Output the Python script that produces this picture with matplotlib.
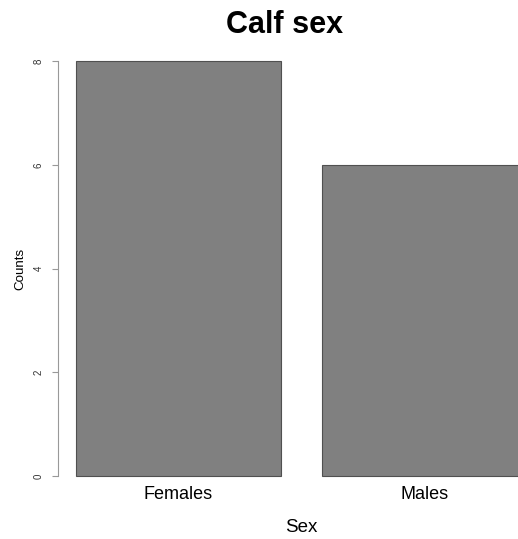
import matplotlib
matplotlib.use("Agg")
import matplotlib.pyplot as plt

categories = ["Females", "Males"]
counts = [8, 6]
yticks = [0, 2, 4, 6, 8]

plt.rcParams['font.family'] = ['Liberation Sans', 'DejaVu Sans']

W, H = 518, 539
fig = plt.figure(figsize=(W/100, H/100), dpi=100)
# axes in pixel coordinates
left_px, right_px = 58, 545
top_px, bot_px = 44.4, 492.6
ax = fig.add_axes([left_px/W, (H-bot_px)/H, (right_px-left_px)/W, (bot_px-top_px)/H])

centers = [0.7 + 1.2*i for i in range(len(categories))]
ax.bar(centers, counts, width=1.0, color='#808080', edgecolor='#505050', linewidth=0.8)
ax.set_xlim(0.112, 2.488)
ax.set_ylim(-0.32, 8.32)

for s in ['top', 'right', 'bottom']:
    ax.spines[s].set_visible(False)
ax.spines['left'].set_bounds(0, 8)
ax.spines['left'].set_color('#999999')
ax.spines['left'].set_linewidth(0.8)

ax.set_yticks(yticks)
ax.set_yticklabels([str(v) for v in yticks], rotation=90, va='center', fontsize=7, color='#333333')
ax.tick_params(axis='y', length=4.5, width=0.8, color='#999999', pad=6)

ax.set_xticks(centers)
ax.set_xticklabels(categories, fontsize=13)
ax.tick_params(axis='x', length=0, pad=-5)

ax.set_ylabel("Counts", fontsize=9.6, labelpad=5)
ax.set_xlabel("Sex", fontsize=13.5, labelpad=12)

fig.text(285/W, 1-25/H, "Calf sex", fontsize=22, fontweight='bold', ha='center', va='center')

fig.savefig("out.png", dpi=100)
